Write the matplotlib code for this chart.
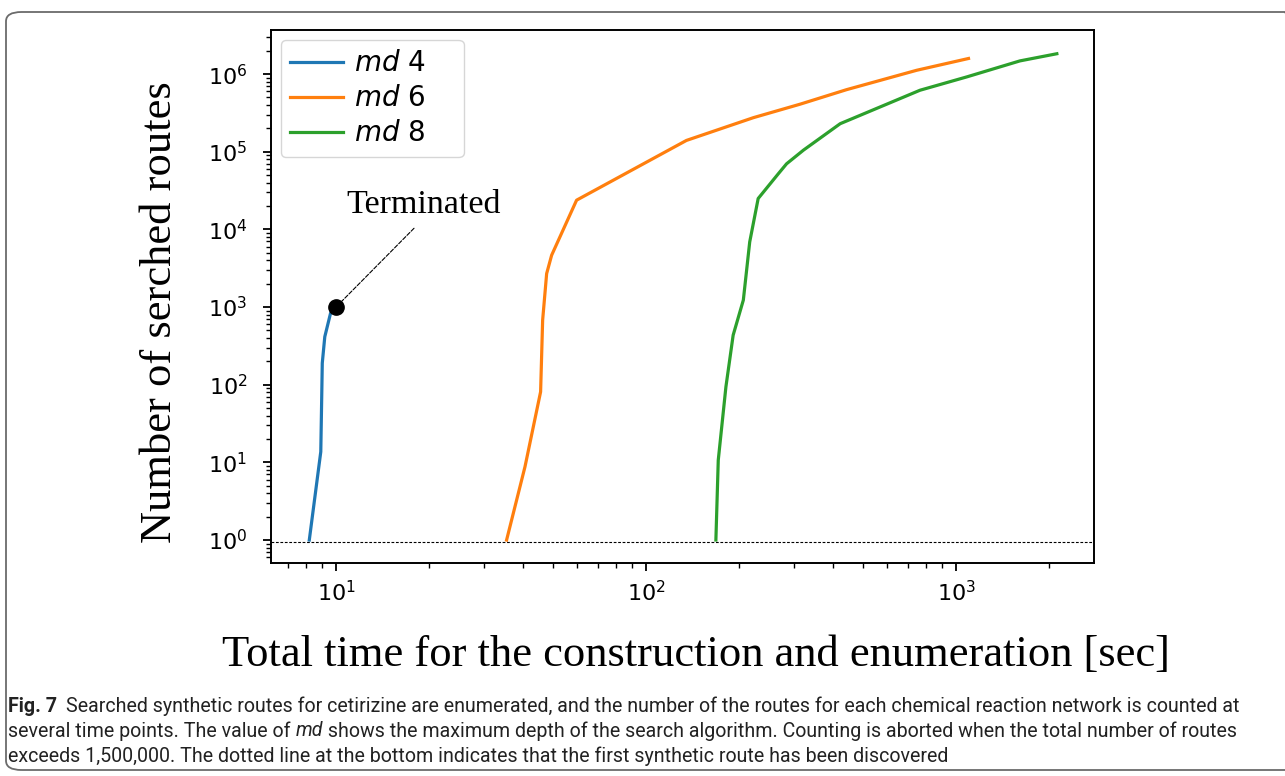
import matplotlib
matplotlib.use("Agg")
import matplotlib.pyplot as plt
from matplotlib.patches import FancyBboxPatch
from matplotlib.ticker import LogLocator, NullFormatter

# ---------------- data ----------------
series_labels = ["md 4", "md 6", "md 8"]
md4_time = [8.2, 8.93, 9.0, 9.03, 9.2, 9.6, 10.0]
md4_routes = [1, 13.7, 85, 190, 415, 830, 1000]

md6_time = [35.5, 40.7, 45.7, 46.4, 47.8, 49.6, 59.7, 135, 222, 314, 443, 746, 1097]
md6_routes = [1, 8.8, 81, 680, 2700, 4650, 23800, 140000, 275000, 410000, 630000, 1120000, 1590000]

md8_time = [168, 171, 181, 191, 206, 216, 230, 267, 284, 322, 423, 765, 1082, 1607, 2114]
md8_routes = [1, 10.7, 94, 435, 1230, 6900, 25000, 52000, 70000, 105000, 230000, 620000, 920000, 1480000, 1830000]

terminated_point = (10.0, 1000)
terminated_label_pos = (19.2, 2.1e4)
terminated_line_start = (17.85, 1.035e4)
first_route_level = 0.94

xlabel = "Total time for the construction and enumeration [sec]"
ylabel = "Number of serched routes"
caption_runs = [
    [("Fig. 7", "bold"), ("Searched synthetic routes for cetirizine are enumerated, and the number of the routes for each chemical reaction network is counted at", "normal")],
    [("several time points. The value of ", "normal"), ("md", "italic"), (" shows the maximum depth of the search algorithm. Counting is aborted when the total number of routes", "normal")],
    [("exceeds 1,500,000. The dotted line at the bottom indicates that the first synthetic route has been discovered", "normal")],
]

# ---------------- figure ----------------
W, H = 1285, 776
fig = plt.figure(figsize=(W / 100, H / 100), dpi=100)

def fx(px):
    return px / W

def fy(py):
    return 1 - py / H

# rounded border
border = FancyBboxPatch((fx(6), fy(770)), fx(1300) - fx(6), fy(12) - fy(770),
                        boxstyle="round,pad=0,rounding_size=0.012",
                        transform=fig.transFigure, fill=False,
                        edgecolor="#6b6b6b", linewidth=1.3, clip_on=False)
fig.patches.append(border)

ax = fig.add_axes([fx(271), fy(563), fx(1094) - fx(271), fy(30) - fy(563)])
ax.set_xscale("log")
ax.set_yscale("log")

colors = ["#1f77b4", "#ff7f0e", "#2ca02c"]
legend_labels = [r"$\mathit{md}$ 4    ", r"$\mathit{md}$ 6    ", r"$\mathit{md}$ 8    "]
ax.plot(md4_time, md4_routes, color=colors[0], lw=2.3, label=legend_labels[0])
ax.plot(md6_time, md6_routes, color=colors[1], lw=2.3, label=legend_labels[1])
ax.plot(md8_time, md8_routes, color=colors[2], lw=2.3, label=legend_labels[2])

ax.axhline(first_route_level, color="black", lw=0.8, ls=(0, (2.5, 1.5)))
ax.plot([terminated_point[0]], [terminated_point[1]], "o", color="black", ms=11, zorder=5)
ax.text(terminated_label_pos[0], terminated_label_pos[1], "Terminated",
        fontsize=24.5, family="Liberation Serif", ha="center", va="center")
ax.annotate("", xy=terminated_point, xytext=terminated_line_start,
            arrowprops=dict(arrowstyle="-", ls="--", lw=0.8, color="black",
                            shrinkA=0, shrinkB=6))

ax.set_xlim(6.17, 2786)
ax.set_ylim(0.506, 3.7e6)

ax.xaxis.set_major_locator(LogLocator(base=10, numticks=10))
ax.xaxis.set_minor_locator(LogLocator(base=10, subs=range(2, 10), numticks=20))
ax.yaxis.set_major_locator(LogLocator(base=10, numticks=12))
ax.yaxis.set_minor_locator(LogLocator(base=10, subs=range(2, 10), numticks=20))
ax.xaxis.set_minor_formatter(NullFormatter())
ax.yaxis.set_minor_formatter(NullFormatter())
ax.tick_params(which="major", length=6, width=1.3, labelsize=16, direction="out")
ax.tick_params(which="minor", length=3.5, width=1.0, direction="out")
ax.tick_params(axis="x", pad=6)
ax.tick_params(axis="y", pad=11)
for s in ax.spines.values():
    s.set_linewidth(1.4)

leg = ax.legend(loc="upper left", fontsize=20, handlelength=1.9,
                handletextpad=0.4, labelspacing=0.25, borderaxespad=0.35,
                borderpad=0.35)

fig.text(fx(696), fy(655), xlabel, family="Liberation Serif", fontsize=32,
         ha="center", va="center")
fig.text(fx(160), fy(312), ylabel, family="Liberation Serif", fontsize=32,
         ha="center", va="center", rotation=90)

# ---------------- caption ----------------
renderer = fig.canvas.get_renderer()
cap_font = "Roboto"
base_size = 13.0
gap_after_bold = 9
tot = gap_after_bold
for txt, style in caption_runs[0]:
    t = fig.text(0, 0, txt, fontsize=base_size, family=cap_font,
                 fontweight="bold" if style == "bold" else "normal")
    tot += t.get_window_extent(renderer).width
    t.remove()
cap_size = base_size * (1233 / tot)
cap_size = min(cap_size, 15.5)

line_y = [706, 731, 756]
for runs, yy in zip(caption_runs, line_y):
    x = 8
    for txt, style in runs:
        t = fig.text(fx(x), fy(yy), txt, fontsize=cap_size, family=cap_font,
                     fontweight="bold" if style == "bold" else "normal",
                     fontstyle="italic" if style == "italic" else "normal",
                     ha="left", va="center", color="#222222")
        x += t.get_window_extent(renderer).width
        if style == "bold":
            x += gap_after_bold

fig.savefig("out.png", dpi=100)
